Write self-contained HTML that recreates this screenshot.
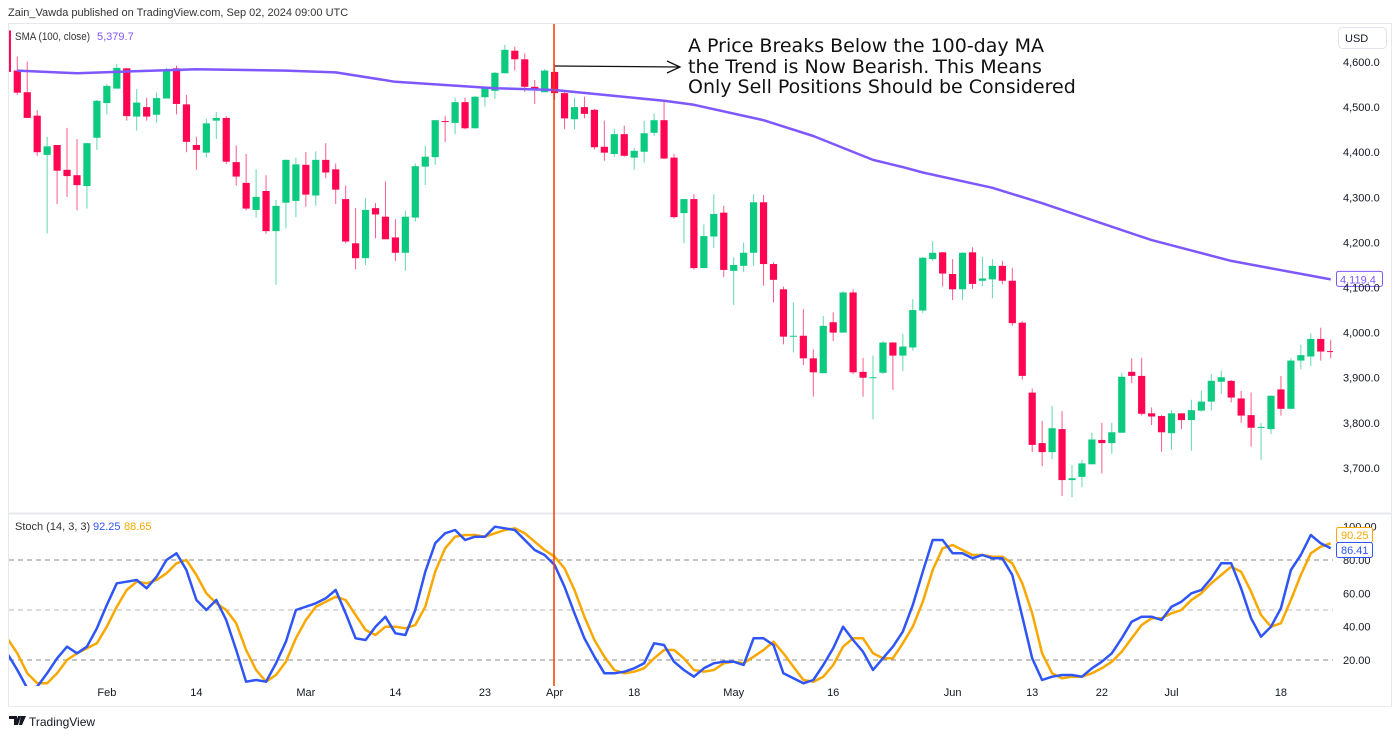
<!DOCTYPE html>
<html><head><meta charset="utf-8"><style>
html,body{margin:0;padding:0;background:#fff;}
svg{display:block;font-family:"Liberation Sans",sans-serif;}
</style></head><body>
<svg id="chart" width="1400" height="737" viewBox="0 0 1400 737" xmlns="http://www.w3.org/2000/svg">
<defs>
<clipPath id="mainClip"><rect x="9" y="24" width="1324" height="489"/></clipPath>
<clipPath id="stochClip"><rect x="9" y="515" width="1324" height="171"/></clipPath>
</defs>
<text x="8" y="16" font-size="11" fill="#333">Zain_Vawda published on TradingView.com, Sep 02, 2024 09:00 UTC</text>
<rect x="8.5" y="23.5" width="1383" height="683" fill="none" stroke="#e6e8ee"/>
<line x1="9" y1="513.5" x2="1391" y2="513.5" stroke="#e6e8ee" stroke-width="2"/>
<g id="grid"></g>
<g id="mainPane" clip-path="url(#mainClip)"></g>
<g id="stochPane" clip-path="url(#stochClip)"></g>
<g id="axes"></g>
<rect x="1338.5" y="27.5" width="48" height="21" rx="4" fill="#fff" stroke="#e0e3eb"/>
<text x="1345" y="42" font-size="11" fill="#131722">USD</text>
<text x="15" y="40" font-size="11" fill="#333" textLength="75" lengthAdjust="spacingAndGlyphs">SMA (100, close)</text>
<text x="97" y="40" font-size="11" fill="#7e57ff">5,379.7</text>
<text x="15" y="530" font-size="11" fill="#333">Stoch (14, 3, 3)</text>
<text x="93" y="530" font-size="11" fill="#2f55f7">92.25</text>
<text x="124" y="530" font-size="11" fill="#f8a800">88.65</text>
<line x1="554" y1="24" x2="554" y2="686" stroke="#f23d00" stroke-width="1.5"/>
<line x1="555" y1="66" x2="680" y2="67" stroke="#111" stroke-width="1.3"/>
<polyline points="667,61 680,67 667,73" fill="none" stroke="#111" stroke-width="1.3"/>
<g font-family="'DejaVu Sans',sans-serif" font-size="19" fill="#111">
<text x="688" y="52">A Price Breaks Below the 100-day MA</text>
<text x="688" y="73">the Trend is Now Bearish. This Means</text>
<text x="688" y="93">Only Sell Positions Should be Considered</text>
</g>
<g>
<path d="M9 716h8v9h-3v-6h-5z M18 716h3l-3 9h-3z M21 716h5l-4 9h-3z" fill="#131722"/>
<text x="29" y="726" font-size="12" fill="#131722">TradingView</text>
</g>
</svg>
<script>
const opens=[4670,4581,4533,4481,4394,4416,4361,4349,4325,4432,4509,4541,4586,4479,4500,4483,4519,4586,4506,4416,4399,4470,4476,4378,4332,4272,4314,4225,4288,4292,4372,4304,4383,4362,4296,4198,4165,4276,4257,4211,4177,4255,4368,4389,4469,4465,4511,4453,4522,4536,4575,4625,4606,4545,4533,4578,4531,4473,4500,4494,4412,4396,4440,4388,4401,4443,4471,4388,4265,4296,4143,4213,4266,4137,4148,4177,4289,4152,4096,3992,3993,3943,3910,4023,4000,4089,3913,3899,3911,3978,3949,3967,4049,4163,4178,4130,4096,4178,4115,4118,4148,4115,4022,3867,3755,3735,3786,3673,3680,3708,3762,3755,3778,3913,3904,3821,3815,3777,3821,3806,3827,3847,3891,3893,3854,3817,3790,3786,3874,3831,3938,3947,3986,3959];
const highs=[4680,4612,4601,4493,4434,4416,4454,4429,4421,4516,4551,4596,4587,4540,4521,4532,4587,4592,4527,4434,4474,4489,4480,4415,4396,4362,4349,4294,4384,4388,4400,4402,4420,4375,4326,4276,4298,4287,4335,4251,4270,4375,4414,4471,4480,4521,4521,4525,4545,4578,4638,4634,4619,4560,4584,4595,4533,4521,4523,4496,4470,4452,4459,4409,4470,4486,4512,4396,4296,4307,4240,4307,4281,4167,4200,4307,4305,4156,4102,4067,4052,3963,4037,4045,4092,4096,3944,3949,3981,3979,3997,4074,4168,4203,4179,4163,4178,4189,4168,4163,4159,4144,4026,3876,3804,3837,3826,3706,3718,3778,3800,3800,3911,3943,3944,3834,3817,3828,3821,3851,3871,3908,3916,3895,3871,3867,3800,3860,3904,3943,3973,3998,4011,3984];
const lows=[4570,4527,4476,4392,4220,4285,4301,4271,4275,4405,4484,4541,4470,4448,4470,4465,4519,4484,4400,4361,4388,4429,4374,4326,4271,4255,4219,4106,4231,4256,4279,4281,4342,4285,4198,4140,4150,4209,4207,4159,4137,4246,4327,4372,4423,4440,4451,4453,4501,4518,4575,4581,4534,4507,4533,4516,4451,4451,4475,4406,4381,4390,4390,4361,4377,4436,4385,4253,4198,4140,4143,4188,4123,4061,4134,4148,4104,4067,3974,3956,3928,3858,3910,3981,4000,3908,3858,3808,3908,3873,3915,3960,4043,4159,4102,4072,4072,4097,4103,4076,4107,4015,3896,3735,3704,3719,3638,3635,3657,3708,3688,3731,3778,3888,3816,3795,3736,3740,3786,3738,3825,3827,3864,3845,3800,3747,3718,3775,3816,3831,3919,3926,3938,3943];
const closes=[4578,4532,4476,4400,4413,4359,4347,4327,4420,4514,4547,4587,4480,4510,4479,4520,4582,4507,4423,4405,4464,4476,4379,4346,4275,4301,4225,4281,4383,4373,4306,4383,4355,4317,4202,4165,4272,4262,4207,4177,4257,4369,4390,4471,4467,4511,4453,4523,4543,4576,4627,4606,4545,4539,4581,4531,4475,4500,4485,4411,4399,4440,4392,4403,4442,4471,4386,4256,4296,4143,4214,4263,4139,4150,4177,4289,4152,4117,3991,3993,3943,3912,4015,4000,4089,3912,3900,3901,3978,3949,3969,4050,4166,4177,4131,4096,4177,4108,4120,4148,4115,4021,3904,3751,3735,3788,3673,3677,3710,3763,3755,3779,3902,3904,3820,3814,3779,3821,3806,3828,3847,3893,3901,3856,3816,3789,3791,3860,3831,3938,3950,3986,3958,3958];
const smaBars=[0,6,10,18,27,32,38,48,54,65,68,75,80,86,89,91,98,103,114,122,132];
const smaValues=[4581,4575,4578,4584,4581,4577,4556,4542,4538,4514,4505,4471,4436,4383,4367,4355,4321,4287,4205,4159,4118];
const stochK=[24,14,3,4,12,21,28,24,28,39,53,66,67,68,63,70,80,84,74,56,50,56,44,26,7,8,7,18,31,50,52,54,57,62,48,33,32,40,46,36,35,50,73,90,96,98,92,94,94,100,99,98,92,86,83,77,64,48,33,22,12,12,13,15,18,30,29,19,14,10,15,18,19,19,17,33,33,29,12,9,6,8,17,27,40,32,25,14,21,28,37,53,73,92,92,84,84,81,83,81,81,71,46,21,8,10,11,11,10,15,19,24,33,43,46,46,44,52,55,60,62,69,78,78,63,45,34,40,51,74,83,95,90,87];
const stochD=[33,24,12,6,6,12,20,24,27,30,40,52,62,67,66,68,72,78,80,71,60,54,50,42,26,14,7,11,19,33,44,52,55,58,56,47,38,35,40,40,39,41,52,73,87,94,95,95,94,96,98,99,96,91,86,82,75,62,46,32,22,14,12,13,15,21,26,26,21,14,13,14,18,19,18,22,26,31,24,16,8,7,10,17,28,33,33,24,21,21,30,40,55,74,87,89,86,83,83,82,82,78,66,48,24,12,9,10,10,12,15,19,25,33,41,45,45,48,50,56,60,66,71,76,73,61,47,40,42,56,71,84,88,90];
const priceTicks=[4600,4500,4400,4300,4200,4100,4000,3900,3800,3700];
const stochTicks=[100,80,60,40,20];
const stochLevels=[80,50,20];
const dateLabels=["Feb","14","Mar","14","23","Apr","18","May","16","Jun","13","22","Jul","18"];
const dateBars=[9,18,29,38,47,54,62,72,82,94,102,109,116,127];

const NS='http://www.w3.org/2000/svg';
const X0=7.35, DX=9.95;
function xOf(i){return X0+i*DX;}
function yPrice(p){return 62+(4600-p)*0.451;}
function yStoch(v){return 660-(v-20)*1.6667;}
function mk(tag,attrs,parent){const e=document.createElementNS(NS,tag);for(const k in attrs)e.setAttribute(k,attrs[k]);parent.appendChild(e);return e;}
const main=document.getElementById('mainPane');
const st=document.getElementById('stochPane');
const axes=document.getElementById('axes');
const UP='#0ccb80', DOWN='#ff0552';

for(let i=0;i<opens.length;i++){
  const x=xOf(i), up=closes[i]>=opens[i], col=up?UP:DOWN;
  const w=mk('line',{x1:x,x2:x,y1:yPrice(highs[i]),y2:yPrice(lows[i]),stroke:up?'#5fdcae':'#ff5b8b','stroke-width':1},main);
  
  
  const top=yPrice(Math.max(opens[i],closes[i])), bot=yPrice(Math.min(opens[i],closes[i]));
  const b=mk('rect',{x:x-3.6,y:top,width:7.2,height:Math.max(1,bot-top),fill:col},main);
  
  
}
let smaPts=smaBars.map((b,k)=>xOf(b+1).toFixed(1)+','+yPrice(smaValues[k]).toFixed(1));
const sma=mk('polyline',{points:smaPts.join(' '),fill:'none',stroke:'#7e57ff','stroke-width':2.5,'stroke-linejoin':'round'},main);


const smaLast=smaValues[smaValues.length-1];
const lb=mk('rect',{x:1336.5,y:yPrice(smaLast)-8,width:46,height:15,fill:'#fff',stroke:'#7e57ff',rx:2},axes);


const lt=mk('text',{x:1340,y:yPrice(smaLast)+4,'font-size':11,fill:'#7e57ff'},axes);
lt.textContent='4,119.4';



priceTicks.forEach(p=>{
  const t=mk('text',{x:1343,y:yPrice(p)+4,'font-size':11,fill:'#131722'},axes);
  t.textContent=p.toLocaleString('en-US')+'.0';
  
  
});
stochLevels.forEach(v=>{
  const l=mk('line',{x1:9,x2:1333,y1:yStoch(v),y2:yStoch(v),stroke:v===50?'#b8b8b8':'#888','stroke-dasharray':'5,4','stroke-width':1},st);
  
  
});
function line(arr,color,name){
  const pts=arr.map((v,i)=>xOf(i).toFixed(1)+','+yStoch(v).toFixed(1)).join(' ');
  const p=mk('polyline',{points:pts,fill:'none',stroke:color,'stroke-width':2.5,'stroke-linejoin':'round'},st);
  
  
}
line(stochD,'#f8a800','stoch-d-line');
line(stochK,'#2f55f7','stoch-k-line');
stochTicks.forEach(v=>{
  const t=mk('text',{x:1343,y:yStoch(v)+4,'font-size':11,fill:'#131722'},axes);
  t.textContent=v.toFixed(2);
  
  
});
[['90.25',535,'#f8a800','stoch-d-value-label'],['86.41',550,'#2f55f7','stoch-k-value-label']].forEach(a=>{
  const r=mk('rect',{x:1336.5,y:a[1]-7.5,width:36,height:15,fill:'#fff',stroke:a[2],rx:2},axes);
  
  
  const t=mk('text',{x:1341,y:a[1]+4,'font-size':11,fill:a[2]},axes);
  t.textContent=a[0];
  
  
});
dateLabels.forEach((d,k)=>{
  const t=mk('text',{x:xOf(dateBars[k]+1),y:696,'font-size':11,fill:'#131722','text-anchor':'middle'},axes);
  t.textContent=d;
  
  
});
</script>
</body></html>
